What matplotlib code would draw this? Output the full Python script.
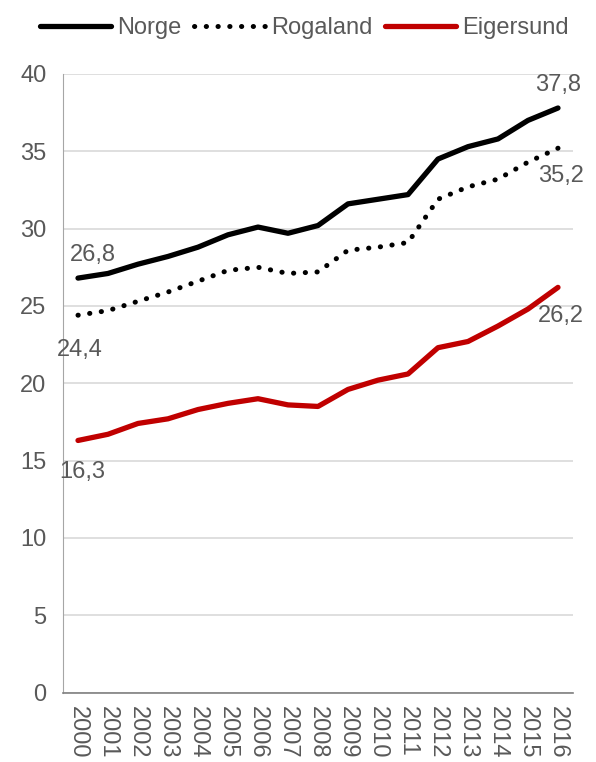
import matplotlib.pyplot as plt

plt.rcParams['font.family'] = ['Liberation Sans', 'DejaVu Sans']

years = [str(y) for y in range(2000, 2017)]
norge = [26.8, 27.1, 27.7, 28.2, 28.8, 29.6, 30.1, 29.7, 30.2, 31.6, 31.9, 32.2,
         34.5, 35.3, 35.8, 37.0, 37.8]
rogaland = [24.4, 24.7, 25.3, 25.9, 26.6, 27.3, 27.5, 27.1, 27.2, 28.6, 28.8, 29.1,
            31.9, 32.7, 33.2, 34.3, 35.2]
eigersund = [16.3, 16.7, 17.4, 17.7, 18.3, 18.7, 19.0, 18.6, 18.5, 19.6, 20.2, 20.6,
             22.3, 22.7, 23.7, 24.8, 26.2]
y_ticks = [0, 5, 10, 15, 20, 25, 30, 35, 40]

text_col = '#595959'
red = '#C00000'

fig = plt.figure(figsize=(5.96, 7.62), dpi=100)
ax = fig.add_axes([0.1057, 0.0912, 0.8557, 0.8117])

x = list(range(len(years)))
ax.plot(x, norge, color='black', linewidth=3.8, solid_capstyle='round', label='Norge')
ax.plot(x, rogaland, color='black', linewidth=3.6, linestyle=(0, (0.05, 2.3)),
        dash_capstyle='round', label='Rogaland')
ax.plot(x, eigersund, color=red, linewidth=3.8, solid_capstyle='round', label='Eigersund')

ax.set_xlim(-0.5, len(years) - 0.5)
ax.set_ylim(0, 40)
ax.set_yticks(y_ticks)
ax.set_xticks(x)
ax.set_xticklabels(years, rotation=270)
ax.tick_params(axis='both', length=0, labelsize=17, colors=text_col)
ax.tick_params(axis='y', pad=12)
ax.tick_params(axis='x', pad=10)
ax.grid(axis='y', color='#D9D9D9', linewidth=1.2)
ax.set_axisbelow(True)
for s in ['top', 'right']:
    ax.spines[s].set_visible(False)
ax.spines['left'].set_color('#A6A6A6')
ax.spines['bottom'].set_color('#808080')
ax.spines['bottom'].set_linewidth(1.2)

# data labels at first and last point
lab = dict(fontsize=17, color=text_col, textcoords='offset points')
ax.annotate('26,8', (0, norge[0]), xytext=(11, 9), ha='center', va='bottom', **lab)
ax.annotate('24,4', (0, rogaland[0]), xytext=(1, -17), ha='center', va='top', **lab)
ax.annotate('16,3', (0, eigersund[0]), xytext=(3, -15), ha='center', va='top', **lab)
ax.annotate('37,8', (16, norge[-1]), xytext=(0, 9), ha='center', va='bottom', **lab)
ax.annotate('35,2', (16, rogaland[-1]), xytext=(2, -12), ha='center', va='top', **lab)
ax.annotate('26,2', (16, eigersund[-1]), xytext=(2, -13), ha='center', va='top', **lab)

fig.legend(loc='upper center', bbox_to_anchor=(0.511, 1.005), ncol=3, frameon=False,
           fontsize=17, labelcolor=text_col, handlelength=3.0, handletextpad=0.25,
           columnspacing=0.55)

fig.savefig('out.png', dpi=100)
